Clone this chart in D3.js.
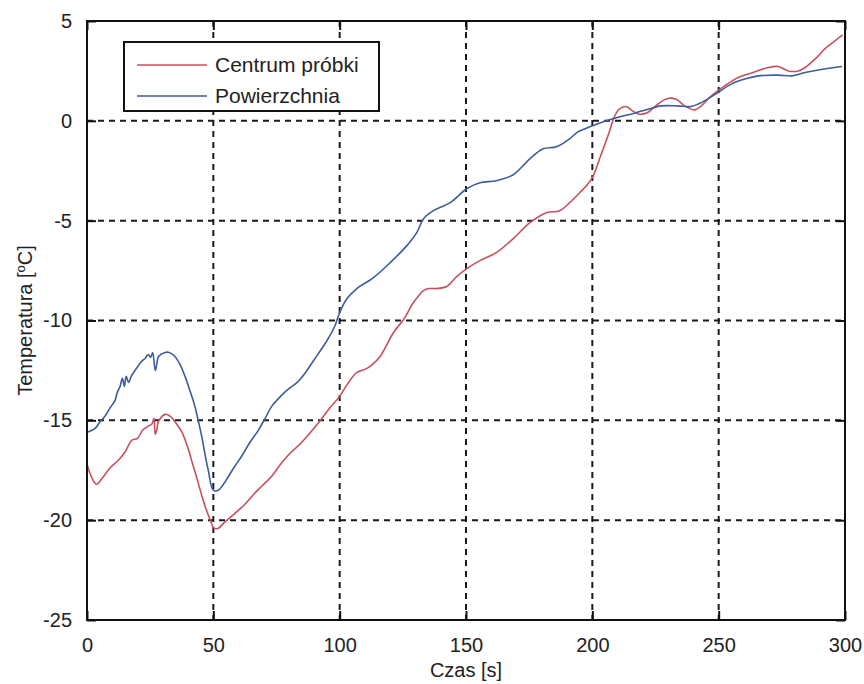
<!DOCTYPE html>
<html>
<head>
<meta charset="utf-8">
<script src="https://cdn.jsdelivr.net/npm/d3@7"></script>
<style>
  html, body { margin: 0; padding: 0; background: #fff; }
  svg text { font-family: "Liberation Sans", Arial, sans-serif; fill: #222; }
</style>
</head>
<body>
<svg id="chart" width="864" height="684"></svg>
<script>
// Temperature of the sample centre and surface during the test
const centrumTime = [0, 2, 3.8, 6, 9, 12.4, 15, 17.7, 20, 22, 24, 25.6, 26.5, 27, 27.6, 28.3, 31, 33, 35, 37.6, 40, 41.6, 43.5, 45.5, 47, 48.8, 50.2, 52, 54.5, 57.3, 60, 62.5, 66, 69.1, 73.1, 76.6, 80, 85, 92.4, 96, 100, 103, 106.8, 110.8, 113, 116, 121.3, 125.3, 129.2, 133.2, 135.5, 138.4, 142.4, 146.3, 150.3, 155.5, 162, 168.7, 175.3, 181.8, 187.1, 191, 195, 198, 200, 203.3, 206.6, 208.6, 210.6, 213.3, 215.9, 218.6, 221.9, 225.9, 229.8, 233.2, 236.5, 240.5, 243.1, 247.1, 252.4, 257.7, 263, 269.6, 273.6, 277.6, 281.6, 284.2, 288.2, 292, 296, 299];
const centrumTemp = [-17.2, -17.9, -18.2, -17.9, -17.4, -17.0, -16.6, -16.0, -15.9, -15.5, -15.3, -15.2, -14.9, -15.7, -15.5, -15.05, -14.7, -14.8, -15.1, -15.6, -16.4, -17.1, -17.9, -18.8, -19.4, -20.0, -20.4, -20.4, -20.1, -19.8, -19.5, -19.2, -18.7, -18.3, -17.8, -17.2, -16.7, -16.1, -15.0, -14.4, -13.8, -13.2, -12.6, -12.4, -12.2, -11.8, -10.6, -9.95, -9.1, -8.5, -8.4, -8.4, -8.3, -7.8, -7.4, -7.0, -6.6, -5.9, -5.1, -4.6, -4.5, -4.1, -3.6, -3.2, -2.85, -1.75, -0.6, 0.17, 0.58, 0.72, 0.5, 0.33, 0.42, 0.83, 1.12, 1.08, 0.75, 0.55, 0.75, 1.25, 1.75, 2.17, 2.39, 2.67, 2.72, 2.5, 2.5, 2.67, 3.1, 3.6, 4.0, 4.3];

const surfaceTime = [0, 3.2, 5, 7.1, 9, 11.1, 12, 13.1, 14, 14.8, 15.5, 16.5, 17.5, 19, 21.6, 23, 24.3, 25.2, 26, 27, 27.6, 28.3, 30.9, 32.5, 34.8, 36.8, 38.8, 40.7, 42.7, 44, 45.4, 46.7, 48, 50, 52, 54, 56, 58.5, 61.2, 64.5, 67.8, 70.5, 73.1, 76.6, 80, 83.2, 86.5, 89.7, 95, 98, 100, 102.9, 106.8, 113.4, 120, 126.6, 130.5, 133.2, 137.1, 143.7, 150.3, 155.5, 162, 168.7, 175.3, 180.5, 185.8, 191, 194.3, 196.7, 200, 204.6, 209.9, 216.6, 223.2, 227.2, 233.8, 239.1, 244.4, 249.7, 255, 260.3, 265.6, 273.6, 278.9, 284.2, 289.5, 298.8];
const surfaceTemp = [-15.6, -15.4, -15.1, -14.8, -14.4, -14.0, -13.6, -13.3, -12.9, -13.3, -12.8, -13.1, -12.8, -12.5, -12.05, -11.9, -11.7, -11.85, -11.6, -12.5, -12.2, -11.8, -11.6, -11.6, -11.8, -12.2, -12.8, -13.5, -14.3, -15.0, -15.8, -16.7, -17.5, -18.5, -18.5, -18.2, -17.8, -17.3, -16.8, -16.1, -15.5, -14.9, -14.3, -13.8, -13.4, -13.1, -12.6, -12.0, -11.0, -10.3, -9.6, -8.9, -8.4, -7.85, -7.1, -6.25, -5.6, -4.9, -4.5, -4.1, -3.4, -3.1, -3.0, -2.7, -1.9, -1.4, -1.3, -0.9, -0.55, -0.42, -0.25, -0.03, 0.17, 0.38, 0.62, 0.75, 0.75, 0.72, 1.0, 1.42, 1.84, 2.09, 2.25, 2.29, 2.25, 2.42, 2.55, 2.72];

const xTicks = [0, 50, 100, 150, 200, 250, 300];
const yTicks = [5, 0, -5, -10, -15, -20, -25];
const seriesNames = ["Centrum próbki", "Powierzchnia"];
const seriesColors = ["#c8505e", "#3d5c9e"];

const svg = d3.select("#chart");
const m = { left: 87, right: 845, top: 21, bottom: 620 };

const x = d3.scaleLinear().domain([0, 300]).range([m.left, m.right]);
const y = d3.scaleLinear().domain([-25, 5]).range([m.bottom, m.top]);

svg.append("rect").attr("width", 864).attr("height", 684).attr("fill", "#fff");

// dashed grid
const grid = svg.append("g").attr("stroke", "#1a1a1a").attr("stroke-width", 2)
  .attr("stroke-dasharray", "6,5");
xTicks.slice(1, -1).forEach(t => {
  grid.append("line").attr("x1", x(t)).attr("x2", x(t)).attr("y1", m.top).attr("y2", m.bottom);
});
yTicks.slice(1, -1).forEach(t => {
  grid.append("line").attr("x1", m.left).attr("x2", m.right).attr("y1", y(t)).attr("y2", y(t));
});

// axes with inward ticks on all four sides
const tickLen = 9;
const axB = d3.axisBottom(x).tickValues(xTicks).tickSize(-tickLen).tickPadding(tickLen + 9).tickFormat(d3.format("d"));
const axT = d3.axisTop(x).tickValues(xTicks).tickSize(-tickLen).tickFormat("");
const axL = d3.axisLeft(y).tickValues(yTicks).tickSize(-tickLen).tickPadding(tickLen + 6).tickFormat(d => d3.format("d")(d).replace("−", "-"));
const axR = d3.axisRight(y).tickValues(yTicks).tickSize(-tickLen).tickFormat("");

function styleAxis(g) {
  g.select(".domain").remove();
  g.selectAll(".tick line").attr("stroke", "#111").attr("stroke-width", 2);
  g.selectAll(".tick text").attr("font-size", 20).attr("fill", "#222")
    .attr("font-family", "'Liberation Sans', Arial, sans-serif");
}
svg.append("g").attr("transform", `translate(0,${m.bottom})`).call(axB).call(styleAxis);
svg.append("g").attr("transform", `translate(0,${m.top})`).call(axT).call(styleAxis);
svg.append("g").attr("transform", `translate(${m.left},0)`).call(axL).call(styleAxis);
svg.append("g").attr("transform", `translate(${m.right},0)`).call(axR).call(styleAxis);

// data lines
const line = d3.line().curve(d3.curveCatmullRom.alpha(0.5)).x(d => x(d[0])).y(d => y(d[1]));
const series = [
  d3.zip(centrumTime, centrumTemp),
  d3.zip(surfaceTime, surfaceTemp)
];
series.forEach((s, i) => {
  svg.append("path").datum(s).attr("d", line).attr("fill", "none")
    .attr("stroke", seriesColors[i]).attr("stroke-width", 1.6).attr("stroke-linejoin", "round");
});

// plot frame
svg.append("rect").attr("x", m.left).attr("y", m.top)
  .attr("width", m.right - m.left).attr("height", m.bottom - m.top)
  .attr("fill", "none").attr("stroke", "#111").attr("stroke-width", 2);

// axis titles
svg.append("text").attr("x", (m.left + m.right) / 2).attr("y", 677)
  .attr("text-anchor", "middle").attr("font-size", 20).text("Czas [s]");
const yl = svg.append("text").attr("transform", `translate(32,${(m.top + m.bottom) / 2}) rotate(-90)`)
  .attr("text-anchor", "middle").attr("font-size", 20);
yl.append("tspan").text("Temperatura [");
yl.append("tspan").attr("font-size", 13).attr("dy", -7).text("o");
yl.append("tspan").attr("dy", 7).text("C]");

// legend
const lg = svg.append("g");
lg.append("rect").attr("x", 124).attr("y", 42).attr("width", 255).attr("height", 69)
  .attr("fill", "#fff").attr("stroke", "#111").attr("stroke-width", 2);
seriesNames.forEach((name, i) => {
  const cy = 65 + i * 31;
  lg.append("line").attr("x1", 137).attr("x2", 207).attr("y1", cy).attr("y2", cy)
    .attr("stroke", seriesColors[i]).attr("stroke-width", 1.6);
  lg.append("text").attr("x", 215).attr("y", cy + 7).attr("font-size", 21).text(name);
});
</script>
</body>
</html>
